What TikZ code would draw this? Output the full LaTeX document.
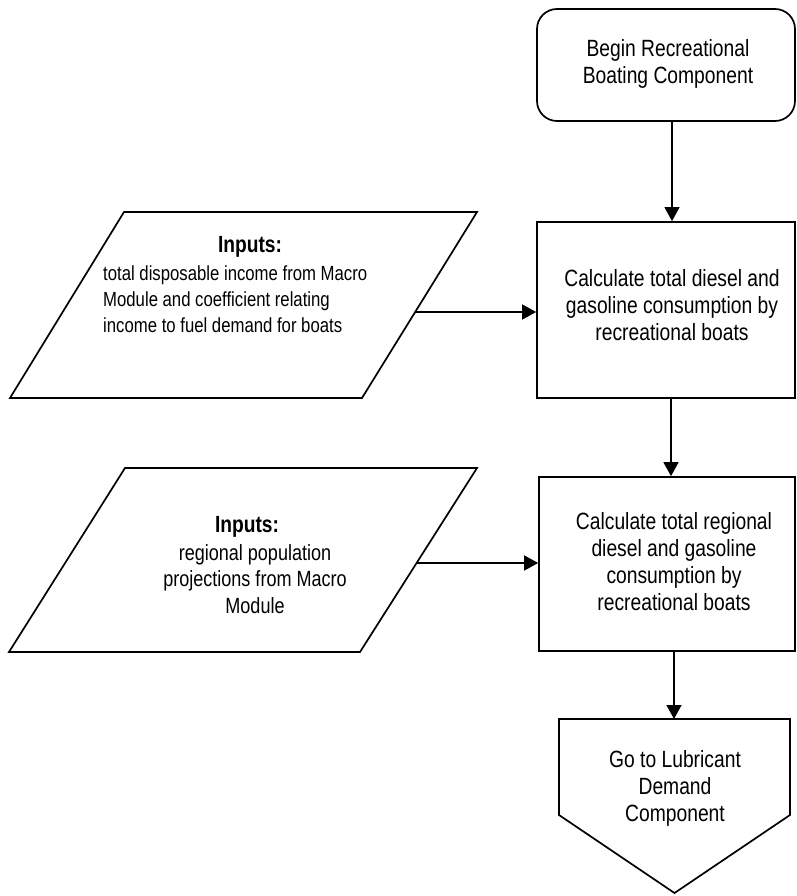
\documentclass[tikz,border=0pt]{standalone}
\usepackage{fontspec}
\setmainfont[FakeStretch=0.82]{Liberation Sans}
\usetikzlibrary{arrows.meta}
\begin{document}
\begin{tikzpicture}[x=1pt,y=-1pt,
  shp/.style={draw, line width=1.7pt, inner sep=0pt},
  arr/.style={line width=1.5pt, -{Triangle[length=14pt,width=15pt]}},
  maintxt/.style={font=\fontsize{23.5}{27}\selectfont, align=center, inner sep=0pt},
  titletxt/.style={font=\fontsize{23.4}{27}\selectfont\bfseries, inner sep=0pt},
  inAtxt/.style={font=\fontsize{20.4}{26}\selectfont, align=left, inner sep=0pt},
  inBtxt/.style={font=\fontsize{22}{26.5}\selectfont, align=center, inner sep=0pt}]
\useasboundingbox (0,0) rectangle (796,896);

% boxes
\node[shp, rounded corners=20pt, minimum width=258pt, minimum height=112pt] (begin) at (666,65) {};
\node[shp, minimum width=258pt, minimum height=176pt] (box1) at (666,310) {};
\node[shp, minimum width=256pt, minimum height=174pt] (box2) at (667,564) {};

% parallelograms
\draw[line width=1.7pt] (124,212) -- (477,212) -- (362,398) -- (10,398) -- cycle;
\draw[line width=1.7pt] (125,468) -- (477,468) -- (360,652) -- (9,652) -- cycle;

% off-page connector
\draw[line width=1.7pt] (559,719) -- (790,719) -- (790,815) -- (674.5,893) -- (559,815) -- cycle;
\coordinate (ptop) at (674,719);

% texts
\node[maintxt] (begint) at (668,64) {Begin Recreational\\Boating Component};
\node[maintxt] (box1t) at (672,305) {Calculate total diesel and\\gasoline consumption by\\recreational boats};
\node[maintxt] (box2t) at (674,561.5) {Calculate total regional\\diesel and gasoline\\consumption by\\recreational boats};
\node[maintxt] (pentt) at (675,788) {Go to Lubricant\\Demand\\Component};

\node[titletxt, anchor=base] (in1title) at (250,252) {Inputs:};
\node[inAtxt, anchor=north west] (in1body) at (103,266) {total disposable income from Macro\\Module and coefficient relating\\income to fuel demand for boats};

\node[titletxt, anchor=base] (in2title) at (247,532) {Inputs:};
\node[inBtxt, anchor=north] (in2body) at (255,544) {regional population\\projections from Macro\\Module};

% connector anchors
\coordinate (ax1) at (672,0);
\coordinate (ax2) at (671,0);
\coordinate (in1r) at (415,312);
\coordinate (in2r) at (416.6,563);

% connectors
\draw[arr] (ax1 |- begin.south) -- (ax1 |- box1.north);
\draw[arr] (ax2 |- box1.south) -- (ax2 |- box2.north);
\draw[arr] (ptop |- box2.south) -- (ptop);
\draw[arr] (in1r) -- (in1r -| box1.west);
\draw[arr] (in2r) -- (in2r -| box2.west);
\end{tikzpicture}
\end{document}
